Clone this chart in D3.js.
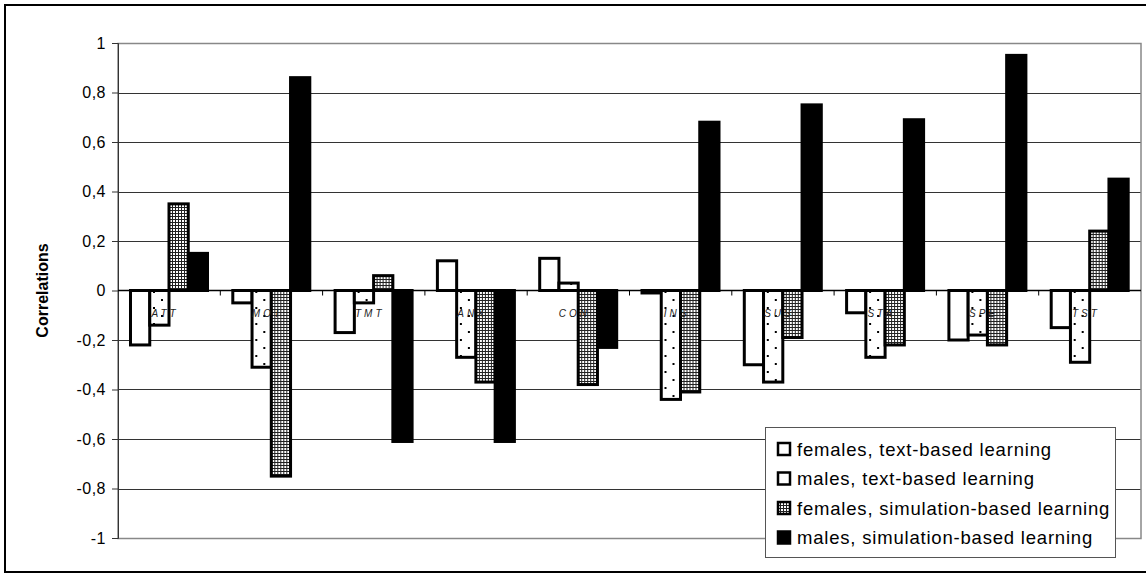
<!DOCTYPE html>
<html>
<head>
<meta charset="utf-8">
<script src="https://cdn.jsdelivr.net/npm/d3@7"></script>
<style>
  html, body { margin: 0; padding: 0; background: #fff; }
  svg { display: block; font-family: "Liberation Sans", Arial, sans-serif; }
</style>
</head>
<body>
<svg id="chart" width="1146" height="574"></svg>
<script>
const categories = ["ATT", "MOT", "TMT", "ANX", "CON", "INS", "SUS", "STA", "SPE", "TST"];
const seriesNames = [
  "females, text-based learning",
  "males, text-based learning",
  "females, simulation-based learning",
  "males, simulation-based learning"
];
const femalesText = [-0.22, -0.05, -0.17, 0.12, 0.13, -0.01, -0.30, -0.09, -0.20, -0.15];
const malesText   = [-0.14, -0.31, -0.05, -0.27, 0.03, -0.44, -0.37, -0.27, -0.18, -0.29];
const femalesSim  = [0.35, -0.75, 0.06, -0.37, -0.38, -0.41, -0.19, -0.22, -0.22, 0.24];
const malesSim    = [0.15, 0.86, -0.61, -0.61, -0.23, 0.68, 0.75, 0.69, 0.95, 0.45];
const yTicks = [1, 0.8, 0.6, 0.4, 0.2, 0, -0.2, -0.4, -0.6, -0.8, -1];
const yTickLabels = ["1", "0,8", "0,6", "0,4", "0,2", "0", "-0,2", "-0,4", "-0,6", "-0,8", "-1"];
const yTitle = "Correlations";

const seriesValues = [femalesText, malesText, femalesSim, malesSim];
const fills = ["#ffffff", "url(#sparse)", "url(#dense)", "#000000"];

const svg = d3.select("#chart");
const W = 1146, H = 574;
const plot = { left: 118, right: 1141, top: 43, bottom: 538 };

// outer border
svg.append("rect").attr("x", 5).attr("y", 5).attr("width", W + 10).attr("height", H - 7)
  .attr("fill", "#fff").attr("stroke", "#000").attr("stroke-width", 2);

// patterns
const defs = svg.append("defs");
const sp = defs.append("pattern").attr("id", "sparse").attr("patternUnits", "userSpaceOnUse")
  .attr("width", 16).attr("height", 16);
sp.append("rect").attr("width", 16).attr("height", 16).attr("fill", "#fff");
sp.append("rect").attr("x", 3).attr("y", 3).attr("width", 2).attr("height", 2).attr("fill", "#000");
sp.append("rect").attr("x", 11).attr("y", 11).attr("width", 2).attr("height", 2).attr("fill", "#000");
const dp = defs.append("pattern").attr("id", "dense").attr("patternUnits", "userSpaceOnUse")
  .attr("width", 3).attr("height", 3);
dp.append("rect").attr("width", 3).attr("height", 3).attr("fill", "#222");
dp.append("rect").attr("x", 1).attr("y", 1).attr("width", 2).attr("height", 2).attr("fill", "#fff");

const x0 = d3.scaleBand().domain(categories).range([plot.left, plot.right]).padding(0);
const x1 = d3.scaleBand().domain(d3.range(4)).range([12.5, 89.5]).padding(0);
const y = d3.scaleLinear().domain([-1, 1]).range([plot.bottom, plot.top]);

// gridlines
svg.append("g").selectAll("line").data(yTicks.filter(v => v !== 0 && v !== 1 && v !== -1)).join("line")
  .attr("x1", plot.left).attr("x2", plot.right)
  .attr("y1", d => Math.round(y(d)) + 0.5).attr("y2", d => Math.round(y(d)) + 0.5)
  .attr("stroke", "#333").attr("stroke-width", 1);

// plot border
svg.append("rect").attr("x", plot.left).attr("y", Math.round(y(1)) + 0.5)
  .attr("width", plot.right - plot.left).attr("height", Math.round(y(-1)) - Math.round(y(1)))
  .attr("fill", "none").attr("stroke", "#888").attr("stroke-width", 1.5);

// y axis
const yAxis = d3.axisLeft(y).tickValues(yTicks).tickSize(6).tickPadding(6)
  .tickFormat((d, i) => yTickLabels[i]);
const gy = svg.append("g").attr("transform", `translate(${plot.left},0)`).call(yAxis);
gy.select(".domain").attr("stroke", "#333");
gy.selectAll(".tick line").attr("stroke", "#333");
gy.selectAll(".tick text").attr("font-size", 16).attr("fill", "#000")
  .attr("font-family", "Liberation Sans, Arial, sans-serif").style("letter-spacing", "0.5px");

// zero axis with ticks at category boundaries
const gx = svg.append("g").attr("transform", `translate(0,${y(0)})`);
gx.append("line").attr("x1", plot.left).attr("x2", plot.right).attr("stroke", "#000").attr("stroke-width", 1.5);
gx.selectAll(".bt").data(categories.slice(1)).join("line").attr("class", "bt")
  .attr("x1", d => x0(d)).attr("x2", d => x0(d)).attr("y1", 0).attr("y2", 5)
  .attr("stroke", "#000").attr("stroke-width", 1);

// bars
const groups = svg.append("g").selectAll("g").data(categories).join("g")
  .attr("transform", d => `translate(${x0(d)},0)`);
groups.selectAll("rect").data((c, ci) => seriesValues.map((s, si) => ({ si, v: s[ci] }))).join("rect")
  .attr("x", d => x1(d.si))
  .attr("width", x1.bandwidth())
  .attr("y", d => y(Math.max(0, d.v)))
  .attr("height", d => Math.abs(y(d.v) - y(0)))
  .attr("fill", d => fills[d.si])
  .attr("stroke", "#000").attr("stroke-width", 3).attr("stroke-linejoin", "miter");

// category labels overlaid (as in reference, partly visible on bars)
svg.append("g").selectAll("text").data(categories).join("text")
  .attr("x", d => x0(d) + x0.bandwidth() / 2 - 4)
  .attr("y", y(0) + 26)
  .attr("text-anchor", "middle")
  .attr("font-size", 10).attr("font-style", "italic")
  .attr("fill", "#222")
  .style("letter-spacing", "3px")
  .text(d => d);

// y title
svg.append("text").attr("transform", `translate(48,${y(0)}) rotate(-90)`)
  .attr("text-anchor", "middle").attr("font-size", 16).attr("font-weight", "bold")
  .text(yTitle);

// legend
const lg = svg.append("g");
const lx = 765, ly = 427, lw = 350, lh = 130;
lg.append("rect").attr("x", lx + 0.5).attr("y", ly + 0.5).attr("width", lw).attr("height", lh)
  .attr("fill", "#fff").attr("stroke", "#555").attr("stroke-width", 1);
const rows = lg.selectAll("g").data(seriesNames).join("g")
  .attr("transform", (d, i) => `translate(${lx}, ${ly + 22 + i * 29.5})`);
rows.append("rect").attr("x", 13).attr("y", -6).attr("width", 12).attr("height", 12)
  .attr("fill", (d, i) => i === 1 ? "#fff" : fills[i])
  .attr("stroke", "#000").attr("stroke-width", 2.5);
rows.append("text").attr("x", 32).attr("y", 6.5)
  .attr("font-size", 18.5).style("letter-spacing", "0.8px")
  .text(d => d);
</script>
</body>
</html>
